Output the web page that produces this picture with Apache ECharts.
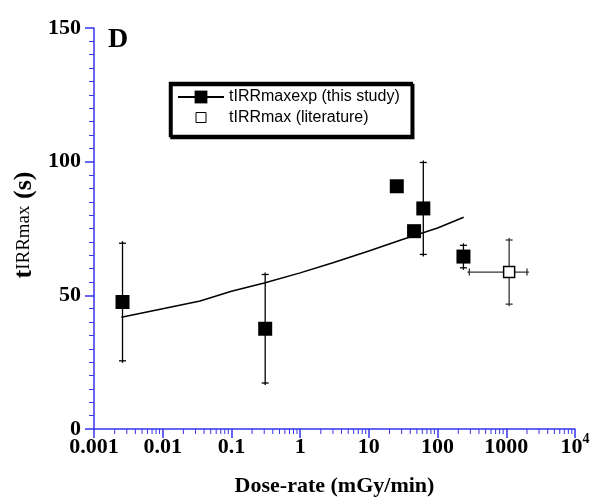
<!DOCTYPE html>
<html><head><meta charset="utf-8">
<script src="https://cdn.jsdelivr.net/npm/echarts@6/dist/echarts.min.js"></script>
<style>html,body{margin:0;padding:0;background:#fff}#c{width:598px;height:502px}</style>
</head><body><div id="c"></div>
<script>
// ---- data ----
const expName = 'tIRRmaxexp (this study)';
const litName = 'tIRRmax (literature)';
const expDose = [0.0026, 0.31, 25.5, 45.5, 62, 238];
const expTime = [47.5, 37.5, 90.8, 74.0, 82.5, 64.5];
const expErr  = [22, 20.3, null, null, 17.2, 4.2];
const litDose = [1100];
const litTime = [58.7];
const litErr  = [12];
const litDoseLow  = [290];
const litDoseHigh = [2000];
const fitDose = [0.0025, 0.01, 0.035, 0.1, 0.3, 1, 3, 10, 30, 100, 240];
const fitTime = [41.8, 45.0, 47.9, 51.5, 54.6, 58.4, 62.2, 66.6, 70.8, 75.2, 79.2];
const xTickLabels = ['0.001', '0.01', '0.1', '1', '10', '100', '1000', '{b|10}{sup|4}'];
const yTicks = [0, 50, 100, 150];
const minorMultipliers = [2, 3, 4, 5, 6, 7, 8, 9];

const SERIF = '"Liberation Serif", "Times New Roman", serif';
const SANS = '"Liberation Sans", Arial, sans-serif';
const AXIS_BLUE = '#3434ee';

const minorTickValues = [];
for (let k = -3; k < 4; k++) {
  minorMultipliers.forEach(m => minorTickValues.push([m * Math.pow(10, k)]));
}

const chart = echarts.init(document.getElementById('c'), null, {renderer: 'canvas'});

function errRender(params, api) {
  const x = api.value(0), y = api.value(1), e = api.value(2);
  const top = api.coord([x, y + e]), bot = api.coord([x, y - e]);
  const w = 3.5;
  const st = {stroke: '#000', lineWidth: 1.3};
  return {type: 'group', children: [
    {type: 'line', shape: {x1: top[0], y1: top[1] - 2, x2: bot[0], y2: bot[1] + 2}, style: st},
    {type: 'line', shape: {x1: top[0] - w, y1: top[1], x2: top[0] + w, y2: top[1]}, style: st},
    {type: 'line', shape: {x1: bot[0] - w, y1: bot[1], x2: bot[0] + w, y2: bot[1]}, style: st}
  ]};
}
function litErrRender(params, api) {
  const x = api.value(0), y = api.value(1), e = api.value(2), lo = api.value(3), hi = api.value(4);
  const top = api.coord([x, y + e]), bot = api.coord([x, y - e]);
  const l = api.coord([lo, y]), r = api.coord([hi, y]);
  const w = 3.5;
  const st = {stroke: '#333', lineWidth: 1.3};
  return {type: 'group', children: [
    {type: 'line', shape: {x1: top[0], y1: top[1] - 2, x2: bot[0], y2: bot[1] + 2}, style: st},
    {type: 'line', shape: {x1: top[0] - w, y1: top[1], x2: top[0] + w, y2: top[1]}, style: st},
    {type: 'line', shape: {x1: bot[0] - w, y1: bot[1], x2: bot[0] + w, y2: bot[1]}, style: st},
    {type: 'line', shape: {x1: l[0] - 2, y1: l[1], x2: r[0] + 2, y2: r[1]}, style: st},
    {type: 'line', shape: {x1: l[0], y1: l[1] - w, x2: l[0], y2: l[1] + w}, style: st},
    {type: 'line', shape: {x1: r[0], y1: r[1] - w, x2: r[0], y2: r[1] + w}, style: st}
  ]};
}
function minorRender(params, api) {
  const p = api.coord([api.value(0), 0]);
  return {type: 'line', shape: {x1: p[0], y1: p[1], x2: p[0], y2: p[1] + 5},
          style: {stroke: AXIS_BLUE, lineWidth: 1}};
}

const option = {
  animation: false,
  backgroundColor: '#fff',
  grid: {left: 94, right: 23, top: 28, bottom: 72},
  graphic: [{
    type: 'text', left: 108, top: 26,
    style: {text: 'D', font: 'bold 28px ' + SERIF, fill: '#000'}
  }],
  legend: {
    orient: 'vertical', left: 170, top: 83,
    data: [
      {name: expName},
      {name: litName, icon: 'path://M0 0M46 16M18 3H28V13H18Z',
       itemStyle: {color: '#fff', borderColor: '#000', borderWidth: 1}}
    ],
    itemWidth: 46, itemHeight: 16, itemGap: 4,
    padding: [6, 12, 10, 7],
    backgroundColor: '#fff', borderColor: '#000', borderWidth: 2.5,
    shadowColor: '#000', shadowBlur: 0, shadowOffsetX: 1.5, shadowOffsetY: 2,
    selectedMode: false,
    textStyle: {fontFamily: SANS, fontSize: 16, color: '#000'}
  },
  xAxis: {
    type: 'log', logBase: 10, min: 0.001, max: 10000, interval: 1,
    name: 'Dose-rate (mGy/min)', nameLocation: 'middle', nameGap: 46,
    nameTextStyle: {fontFamily: SERIF, fontWeight: 'bold', fontSize: 22, color: '#000'},
    axisLine: {show: true, lineStyle: {color: AXIS_BLUE, width: 1.5}},
    axisTick: {show: true, length: 9, lineStyle: {color: AXIS_BLUE, width: 1.5}},
    splitLine: {show: false},
    axisLabel: {
      margin: 18, verticalAlign: 'middle',
      fontFamily: SERIF, fontWeight: 'bold', fontSize: 22, color: '#000',
      showMinLabel: true, showMaxLabel: true,
      formatter: function (v) {
        const i = Math.round(Math.log10(v)) + 3;
        return xTickLabels[i];
      },
      rich: {
        b: {fontFamily: SERIF, fontWeight: 'bold', fontSize: 22, color: '#000'},
        sup: {fontFamily: SERIF, fontWeight: 'bold', fontSize: 14, color: '#000', padding: [0, 0, 16, 0]}
      }
    }
  },
  yAxis: {
    type: 'value', min: yTicks[0], max: yTicks[yTicks.length - 1], interval: 50,
    name: '{t|t}{sub|IRRmax} {s|(s)}', nameLocation: 'middle', nameRotate: 90, nameGap: 56,
    nameTextStyle: {
      fontFamily: SERIF, fontSize: 26, fontWeight: 'bold', color: '#000',
      padding: [0, 0, 0, 7],
      rich: {
        t: {fontFamily: SERIF, fontSize: 26, fontWeight: 'bold', color: '#000'},
        sub: {fontFamily: SERIF, fontSize: 19, fontWeight: 'normal', color: '#000'},
        s: {fontFamily: SERIF, fontSize: 26, fontWeight: 'bold', color: '#000'}
      }
    },
    axisLine: {show: true, lineStyle: {color: AXIS_BLUE, width: 1.5}},
    axisTick: {show: true, length: 9, lineStyle: {color: AXIS_BLUE, width: 1.5}},
    minorTick: {show: true, splitNumber: 10, length: 5, lineStyle: {color: AXIS_BLUE, width: 1}},
    splitLine: {show: false},
    minorSplitLine: {show: false},
    axisLabel: {margin: 13, fontFamily: SERIF, fontWeight: 'bold', fontSize: 22, color: '#000'}
  },
  series: [
    {
      name: expName, type: 'line', showSymbol: false, symbol: 'rect', symbolSize: 14,
      data: fitDose.map((d, i) => [d, fitTime[i]]),
      lineStyle: {color: '#000', width: 1.5},
      itemStyle: {color: '#000'},
      silent: true, z: 2
    },
    {
      name: 'xminor', type: 'custom', renderItem: minorRender, data: minorTickValues,
      silent: true, clip: false, z: 1
    },
    {
      name: 'experr', type: 'custom', renderItem: errRender,
      data: expDose.map((d, i) => [d, expTime[i], expErr[i]]).filter(r => r[2] != null),
      silent: true, z: 3
    },
    {
      name: 'literr', type: 'custom', renderItem: litErrRender,
      data: litDose.map((d, i) => [d, litTime[i], litErr[i], litDoseLow[i], litDoseHigh[i]]),
      silent: true, z: 3
    },
    {
      name: expName, type: 'scatter', symbol: 'rect', symbolSize: 14,
      data: expDose.map((d, i) => [d, expTime[i]]),
      itemStyle: {color: '#000', opacity: 1}, silent: true, z: 5
    },
    {
      name: litName, type: 'scatter', symbol: 'rect', symbolSize: 11,
      data: litDose.map((d, i) => [d, litTime[i]]),
      itemStyle: {color: '#fff', borderColor: '#000', borderWidth: 1.5, opacity: 1}, silent: true, z: 5
    }
  ]
};
chart.setOption(option);
</script>
</body></html>
